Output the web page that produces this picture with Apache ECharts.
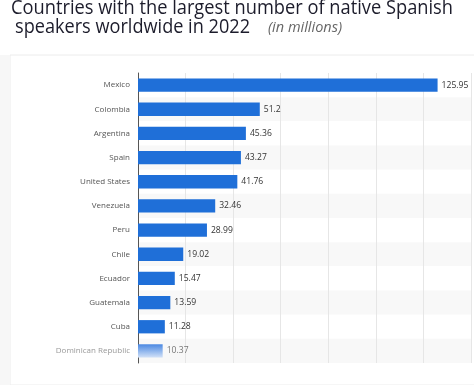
<!DOCTYPE html>
<html><head><meta charset="utf-8">
<script src="https://cdn.jsdelivr.net/npm/echarts@6/dist/echarts.min.js"></script>
<style>html,body{margin:0;padding:0;background:#fff;}#c{width:474px;height:385px;}</style>
</head><body><div id="c"></div>
<script>
const categories = ["Mexico","Colombia","Argentina","Spain","United States","Venezuela","Peru","Chile","Ecuador","Guatemala","Cuba","Dominican Republic"];
const values = [125.95,51.2,45.36,43.27,41.76,32.46,28.99,19.02,15.47,13.59,11.28,10.37];
const titleLine1 = "Countries with the largest number of native Spanish";
const titleLine2 = "speakers worldwide in 2022";
const subtitle = "(in millions)";

const FAM = '"Open Sans"';
const cv = document.createElement('canvas').getContext('2d');
function fitScale(text, font, target){ cv.font = font; const w = cv.measureText(text).width; return w>0 ? target/w : 1; }
const tFont = '500 20px ' + FAM;
const s1 = fitScale(titleLine1, tFont, 442);
const s2 = fitScale(titleLine2, tFont, 235);
const sFont = 'italic 15px ' + FAM;
const s3 = fitScale(subtitle, sFont, 74);

const chart = echarts.init(document.getElementById('c'));
const barColor = '#1f6fd8';
const data = values.map((v,i)=> {
  if (i === values.length-1) {
    return {value:v, itemStyle:{color:new echarts.graphic.LinearGradient(0,0,0,1,[{offset:0,color:'#4a88e2'},{offset:1,color:'#d2e1f7'}])}, label:{color:'#777'}};
  }
  return v;
});
chart.setOption({
  backgroundColor:'#fff',
  graphic:[
    {type:'rect', shape:{x:10,y:55,width:470,height:330}, style:{fill:'#fff', stroke:'#ececec', lineWidth:1}, z:-10, silent:true},
    {type:'rect', shape:{x:0,y:55,width:10,height:330}, style:{fill:'#f7f7f7'}, z:-10, silent:true},
    {type:'text', x:11, y:-2, scaleX:s1, style:{text:titleLine1, font:tFont, fill:'#1c1c2b'}},
    {type:'text', x:15, y:17, scaleX:s2, style:{text:titleLine2, font:tFont, fill:'#1c1c2b'}},
    {type:'text', x:268, y:20, scaleX:s3, style:{text:subtitle, font:sFont, fill:'#666'}}
  ],
  grid:{left:138, top:73, right:3, bottom:22, containLabel:false},
  xAxis:{type:'value', min:0, max:140, interval:20, axisLabel:{show:false}, axisLine:{show:false}, axisTick:{show:false},
    splitLine:{show:true, lineStyle:{color:'#e6e6e6', width:1}}},
  yAxis:{type:'category', data:categories, inverse:true,
    axisLine:{show:true, lineStyle:{color:'#555', width:1}}, axisTick:{show:false},
    axisLabel:{color:'#555', fontSize:8, fontFamily:FAM, margin:8, formatter:(v,i)=> i===categories.length-1 ? '{d|'+v+'}' : v, rich:{d:{color:'#999', fontSize:8, fontFamily:FAM}}},
    splitArea:{show:true, areaStyle:{color:['#ffffff','#f8f8f8']}}},
  series:[{type:'bar', data:data, barWidth:'55%', itemStyle:{color:barColor},
    label:{show:true, position:'right', distance:4, color:'#333', fontSize:8.6, fontFamily:FAM}, animation:false}],
  animation:false
});
</script></body></html>
